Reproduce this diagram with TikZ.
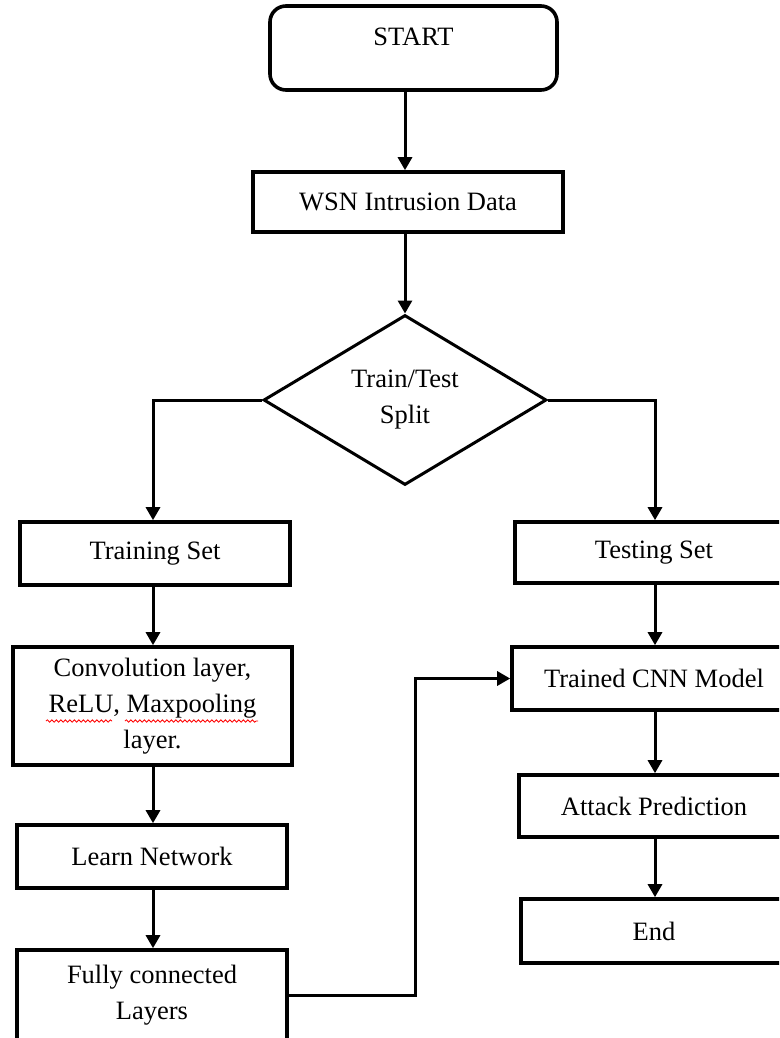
\documentclass[tikz,border=0pt]{standalone}
\usepackage{fontspec}
\setmainfont{Liberation Serif}
\usetikzlibrary{shapes.geometric,arrows.meta,decorations.pathmorphing}
\begin{document}
\begin{tikzpicture}[x=1pt,y=-1pt,
  every node/.style={font=\fontsize{26.5}{36}\selectfont},
  box/.style={draw, line width=3.6pt, rectangle, inner sep=0pt, align=center},
  startbox/.style={box, rounded corners=16pt},
  decision/.style={draw, line width=3pt, diamond, inner sep=0pt, align=center},
  arr/.style={line width=3pt, -{Triangle[width=14pt,length=13pt]}},
  spell/.style={red, line width=0.8pt, decorate,
    decoration={snake, amplitude=1.2pt, segment length=4.5pt}}
]
\useasboundingbox (0,0) rectangle (779,1038);
\clip (0,0) rectangle (779,1038);

% column guides for the vertical connectors
\coordinate (lc) at (153,0);
\coordinate (rc) at (655,0);
\coordinate (bend) at (415,0);

% main flow
\node[startbox, minimum width=287pt, minimum height=84pt,
      text height=18pt, text depth=23pt] (start) at (413.5,48) {START};
\node[box, minimum width=310pt, minimum height=60pt] (wsn) at (408,202) {WSN Intrusion Data};
\node[decision, minimum width=283pt, minimum height=170pt] (split) at (405,400) {Train/Test\\Split};

% training branch
\node[box, minimum width=270pt, minimum height=63pt] (train) at (155,553.5) {Training Set};
\node[box, minimum width=279pt, minimum height=118pt] (conv) at (152.5,706)
  {Convolution layer,\\ReLU, Maxpooling\\layer.};
\node[box, minimum width=270pt, minimum height=63pt] (learn) at (152,856.5) {Learn Network};
\node[box, minimum width=270pt, minimum height=90pt] (fully) at (152,995) {Fully connected\\Layers};

% testing branch
\node[box, minimum width=278pt, minimum height=61pt] (test) at (654,552.5) {Testing Set};
\node[box, minimum width=284pt, minimum height=63pt] (cnn) at (654,678.5) {Trained CNN Model};
\node[box, minimum width=270pt, minimum height=62pt] (attack) at (654,806) {Attack Prediction};
\node[box, minimum width=266pt, minimum height=64pt] (end) at (654,931) {End};

% spell-check marks under the second line of the convolution box
\draw[spell] (46,721) -- (112,721);
\draw[spell] (125,721) -- (258,721);

% connectors
\draw[arr] (start.south -| split.north) -- (wsn.north -| split.north);
\draw[arr] (wsn.south -| split.north) -- (split.north);
\draw[arr] (split.west) -| (train.north -| lc);
\draw[arr] (split.east) -| (test.north -| rc);
\draw[arr] (train.south -| lc) -- (conv.north -| lc);
\draw[arr] (conv.south -| lc) -- (learn.north -| lc);
\draw[arr] (learn.south -| lc) -- (fully.north -| lc);
\draw[arr] (test.south -| rc) -- (cnn.north -| rc);
\draw[arr] (cnn.south -| rc) -- (attack.north -| rc);
\draw[arr] (attack.south -| rc) -- (end.north -| rc);
\draw[arr] (fully.east) -- (fully.east -| bend) -- (cnn.west -| bend) -- (cnn.west);
\end{tikzpicture}
\end{document}
